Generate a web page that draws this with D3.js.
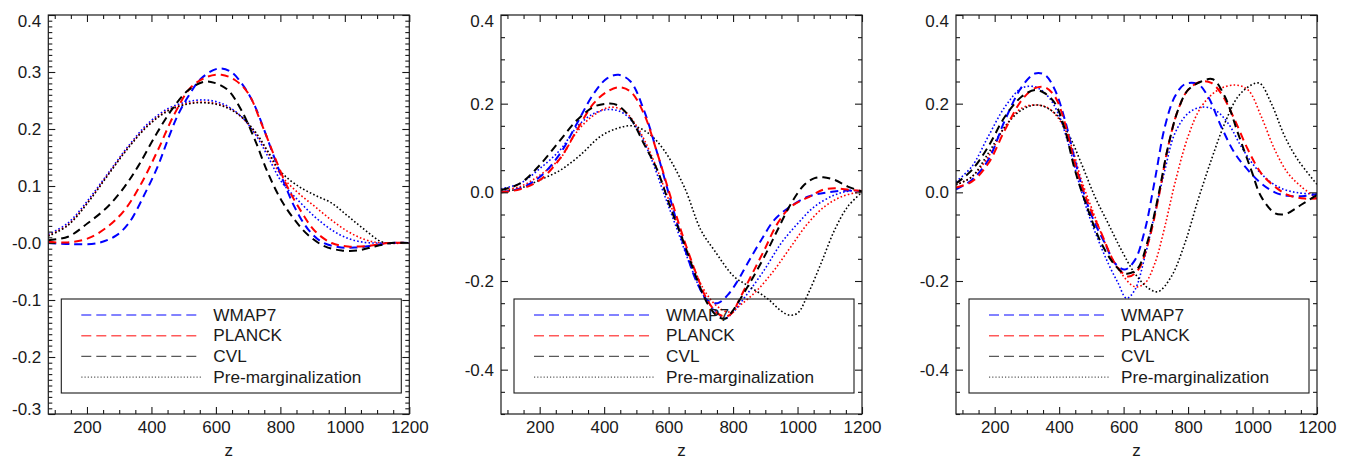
<!DOCTYPE html>
<html>
<head>
<meta charset="utf-8">
<script src="https://d3js.org/d3.v7.min.js"></script>
<style>
  body { margin: 0; background: #fff; }
  text { font-family: "Liberation Sans", Arial, Helvetica, sans-serif; fill: #1a1a1a; }
</style>
</head>
<body>
<script>
// x ticks shared by all panels
const zTicks = [200, 400, 600, 800, 1000, 1200];

// y ticks per panel
const p1YTicks = [-0.3, -0.2, -0.1, 0, 0.1, 0.2, 0.3, 0.4];
const p1YLabels = ["-0.3", "-0.2", "-0.1", "-0.0", "0.1", "0.2", "0.3", "0.4"];
const p23YTicks = [-0.4, -0.2, 0, 0.2, 0.4];
const p23YLabels = ["-0.4", "-0.2", "0.0", "0.2", "0.4"];

const legendNames = ["WMAP7", "PLANCK", "CVL", "Pre-marginalization"];

// panel 1 : [z, value]
const p1Wmap7 = [[80,0],[150,-0.002],[234,0.0],[290,0.013],[330,0.035],[380,0.087],[420,0.135],[450,0.18],[480,0.222],[514,0.257],[555,0.289],[607,0.306],[645,0.301],[690,0.272],[721,0.24],[752,0.195],[783,0.147],[814,0.102],[845,0.062],[886,0.024],[928,0.002],[979,-0.007],[1031,-0.008],[1093,-0.004],[1145,0],[1200,0]];
const p1Planck = [[80,0.002],[141,0.001],[203,0.008],[265,0.029],[317,0.058],[369,0.105],[420,0.163],[472,0.227],[524,0.274],[576,0.292],[617,0.295],[659,0.286],[700,0.263],[741,0.21],[783,0.15],[824,0.096],[866,0.054],[907,0.021],[959,0.0],[1010,-0.006],[1073,-0.005],[1135,0],[1200,0]];
const p1Cvl = [[80,0.005],[141,0.011],[203,0.035],[265,0.064],[317,0.099],[358,0.134],[410,0.186],[462,0.233],[514,0.268],[565,0.283],[596,0.281],[638,0.268],[679,0.233],[721,0.181],[762,0.122],[803,0.075],[845,0.04],[886,0.014],[938,-0.006],[990,-0.013],[1041,-0.013],[1093,-0.006],[1145,0],[1200,0]];
const p1Wmap7Pre = [[80,0.015],[141,0.035],[203,0.075],[265,0.122],[327,0.169],[390,0.21],[452,0.236],[514,0.248],[565,0.251],[617,0.245],[669,0.227],[721,0.192],[762,0.151],[803,0.108],[855,0.075],[907,0.046],[959,0.023],[1010,0.008],[1062,0.001],[1114,0],[1200,0]];
const p1PlanckPre = [[80,0.013],[141,0.032],[203,0.072],[265,0.12],[327,0.167],[390,0.207],[452,0.233],[514,0.245],[565,0.247],[617,0.242],[669,0.226],[721,0.194],[762,0.158],[803,0.118],[855,0.088],[907,0.064],[959,0.04],[1010,0.02],[1062,0.006],[1114,0],[1200,0]];
const p1CvlPre = [[80,0.012],[141,0.031],[203,0.071],[265,0.119],[327,0.166],[390,0.206],[452,0.232],[514,0.244],[565,0.246],[617,0.241],[669,0.226],[721,0.196],[762,0.16],[803,0.124],[855,0.1],[907,0.084],[959,0.07],[1010,0.047],[1062,0.023],[1114,0.002],[1145,0],[1200,0]];

// panel 2
const p2Wmap7 = [[80,0],[139,0.009],[201,0.035],[264,0.088],[316,0.156],[368,0.223],[409,0.257],[445,0.265],[482,0.25],[523,0.186],[565,0.088],[606,-0.017],[648,-0.122],[689,-0.205],[720,-0.243],[752,-0.25],[783,-0.232],[814,-0.2],[845,-0.16],[887,-0.108],[928,-0.062],[970,-0.036],[1032,-0.01],[1094,0.0],[1156,0.004],[1200,0.003]];
const p2Planck = [[80,0],[139,0.007],[201,0.028],[264,0.077],[316,0.141],[368,0.201],[409,0.227],[445,0.237],[482,0.227],[523,0.178],[565,0.088],[606,-0.01],[648,-0.107],[689,-0.19],[720,-0.243],[752,-0.273],[778,-0.28],[800,-0.27],[814,-0.25],[855,-0.19],[897,-0.13],[938,-0.07],[980,-0.032],[1042,-0.008],[1080,0.006],[1115,0.009],[1160,0.006],[1200,0.003]];
const p2Cvl = [[80,0.005],[139,0.02],[201,0.062],[264,0.118],[316,0.163],[368,0.193],[409,0.2],[440,0.197],[482,0.167],[523,0.11],[565,0.05],[606,-0.035],[648,-0.115],[689,-0.198],[720,-0.25],[752,-0.28],[775,-0.285],[793,-0.273],[845,-0.213],[897,-0.145],[938,-0.085],[980,-0.025],[1021,0.017],[1053,0.032],[1080,0.034],[1115,0.028],[1156,0.013],[1200,0.002]];
const p2Wmap7Pre = [[80,0.008],[139,0.02],[201,0.054],[264,0.096],[316,0.148],[368,0.178],[419,0.187],[461,0.178],[502,0.144],[544,0.08],[585,-0.002],[627,-0.085],[669,-0.168],[710,-0.235],[752,-0.273],[775,-0.285],[800,-0.27],[845,-0.228],[897,-0.175],[949,-0.115],[1001,-0.07],[1053,-0.032],[1115,-0.006],[1160,0.003],[1200,0.003]];
const p2PlanckPre = [[80,0.004],[139,0.013],[201,0.039],[264,0.077],[316,0.137],[368,0.174],[419,0.192],[461,0.184],[502,0.148],[544,0.088],[585,0.013],[627,-0.07],[669,-0.153],[710,-0.22],[752,-0.258],[790,-0.27],[830,-0.25],[876,-0.22],[928,-0.175],[980,-0.122],[1032,-0.07],[1084,-0.032],[1136,-0.01],[1188,0.0],[1200,0.0]];
const p2CvlPre = [[80,0.0],[139,0.009],[201,0.028],[264,0.05],[326,0.084],[388,0.126],[440,0.144],[487,0.15],[534,0.135],[585,0.096],[648,0.013],[700,-0.085],[741,-0.13],[803,-0.19],[845,-0.21],[907,-0.24],[950,-0.268],[975,-0.277],[1001,-0.272],[1032,-0.23],[1073,-0.16],[1115,-0.085],[1156,-0.032],[1200,0.0]];

// panel 3
const p3Wmap7 = [[80,0.007],[129,0.028],[180,0.073],[232,0.163],[284,0.238],[325,0.268],[356,0.265],[387,0.231],[418,0.163],[449,0.073],[480,-0.01],[511,-0.07],[542,-0.115],[573,-0.16],[604,-0.174],[635,-0.153],[666,-0.085],[697,0.028],[728,0.148],[759,0.216],[790,0.244],[831,0.244],[862,0.216],[903,0.148],[945,0.088],[986,0.05],[1027,0.02],[1069,0.0],[1110,-0.008],[1162,-0.008],[1200,-0.004]];
const p3Planck = [[80,0.011],[129,0.024],[180,0.065],[232,0.141],[284,0.208],[325,0.235],[356,0.237],[387,0.216],[418,0.156],[449,0.065],[490,-0.025],[531,-0.092],[573,-0.16],[614,-0.19],[645,-0.175],[676,-0.115],[707,-0.017],[738,0.103],[769,0.186],[800,0.231],[841,0.25],[872,0.247],[903,0.223],[945,0.163],[986,0.096],[1027,0.043],[1069,0.013],[1110,-0.006],[1162,-0.014],[1200,-0.014]];
const p3Cvl = [[80,0.02],[129,0.05],[180,0.103],[232,0.171],[284,0.216],[325,0.231],[356,0.223],[387,0.201],[418,0.141],[449,0.05],[490,-0.04],[531,-0.115],[573,-0.164],[604,-0.183],[640,-0.175],[676,-0.107],[707,-0.01],[738,0.103],[769,0.186],[800,0.231],[841,0.25],[877,0.255],[914,0.216],[955,0.133],[996,0.05],[1027,-0.01],[1069,-0.047],[1094,-0.05],[1110,-0.047],[1151,-0.028],[1200,-0.006]];
const p3Wmap7Pre = [[80,0.024],[129,0.058],[180,0.126],[232,0.193],[284,0.235],[325,0.238],[366,0.216],[397,0.178],[428,0.111],[459,0.028],[490,-0.047],[521,-0.107],[552,-0.16],[583,-0.205],[609,-0.239],[635,-0.22],[666,-0.145],[697,-0.047],[728,0.05],[759,0.133],[800,0.178],[841,0.192],[883,0.186],[924,0.156],[965,0.103],[1007,0.058],[1048,0.028],[1089,0.009],[1141,-0.001],[1200,-0.004]];
const p3PlanckPre = [[80,0.017],[129,0.035],[180,0.08],[232,0.148],[284,0.19],[325,0.197],[366,0.19],[408,0.156],[439,0.103],[469,0.028],[511,-0.055],[552,-0.13],[593,-0.183],[635,-0.213],[666,-0.205],[697,-0.16],[728,-0.077],[759,0.02],[800,0.126],[841,0.193],[893,0.231],[945,0.242],[986,0.231],[1027,0.171],[1069,0.096],[1110,0.043],[1151,0.013],[1200,-0.014]];
const p3CvlPre = [[80,0.017],[129,0.035],[180,0.088],[232,0.148],[284,0.186],[335,0.197],[387,0.178],[428,0.133],[469,0.065],[511,-0.01],[552,-0.07],[593,-0.13],[635,-0.183],[676,-0.216],[707,-0.224],[748,-0.19],[790,-0.115],[831,-0.017],[872,0.073],[914,0.156],[955,0.216],[996,0.242],[1022,0.246],[1058,0.201],[1100,0.126],[1141,0.073],[1200,0.018]];

const panels = [
  {left: 48.3, ydom: [-0.3, 0.4], yt: p1YTicks, yl: p1YLabels, minor: 0.01,
   dashed: [p1Wmap7, p1Planck, p1Cvl], dotted: [p1Wmap7Pre, p1PlanckPre, p1CvlPre]},
  {left: 501, ydom: [-0.5, 0.4], yt: p23YTicks, yl: p23YLabels, minor: 0.05,
   dashed: [p2Wmap7, p2Planck, p2Cvl], dotted: [p2Wmap7Pre, p2PlanckPre, p2CvlPre]},
  {left: 956, ydom: [-0.5, 0.4], yt: p23YTicks, yl: p23YLabels, minor: 0.05,
   dashed: [p3Wmap7, p3Planck, p3Cvl], dotted: [p3Wmap7Pre, p3PlanckPre, p3CvlPre]}
];
const colors = ["#0000ff", "#ff0000", "#000000"];

const W = 1353, H = 460;
const plotTop = 15, pw = 361, ph = 399;
const tickFont = 17;

const svg = d3.select("body").append("svg")
  .attr("width", W).attr("height", H);

panels.forEach(function(p, i) {
  const g = svg.append("g").attr("transform", "translate(" + p.left + "," + plotTop + ")");
  const x = d3.scaleLinear().domain([80, 1200]).range([0, pw]);
  const y = d3.scaleLinear().domain(p.ydom).range([ph, 0]);

  g.append("clipPath").attr("id", "clip" + i)
    .append("rect").attr("width", pw).attr("height", ph);

  const line = d3.line()
    .x(function(d) { return x(d[0]); })
    .y(function(d) { return y(d[1]); })
    .curve(d3.curveCatmullRom.alpha(0.5));

  const curves = g.append("g").attr("clip-path", "url(#clip" + i + ")");
  for (var k = 0; k < 3; k++) {
    curves.append("path").datum(p.dotted[k])
      .attr("fill", "none").attr("stroke", colors[k])
      .attr("stroke-width", 1.6).attr("stroke-dasharray", "1.6,2.2")
      .attr("d", line);
  }
  for (var k = 0; k < 3; k++) {
    curves.append("path").datum(p.dashed[k])
      .attr("fill", "none").attr("stroke", colors[k])
      .attr("stroke-width", 2).attr("stroke-dasharray", "8,5")
      .attr("d", line);
  }

  // minor ticks
  const xMinor = d3.range(100, 1201, 50).filter(function(v) { return zTicks.indexOf(v) < 0; });
  const yMinor = d3.range(Math.round(p.ydom[0] / p.minor), Math.round(p.ydom[1] / p.minor) + 1)
    .map(function(k) { return +(k * p.minor).toFixed(3); })
    .filter(function(v) { return p.yt.every(function(t) { return Math.abs(t - v) > 1e-6; }); });

  function tickStyle(sel) {
    sel.select(".domain").remove();
    sel.selectAll("line").attr("stroke", "#1a1a1a").attr("stroke-width", 1.1);
  }

  // bottom
  g.append("g").attr("transform", "translate(0," + ph + ")")
    .call(d3.axisBottom(x).tickValues(xMinor).tickSize(-4).tickFormat(""))
    .call(tickStyle);
  g.append("g").attr("transform", "translate(0," + ph + ")")
    .call(d3.axisBottom(x).tickValues(zTicks).tickSize(-7).tickPadding(7).tickFormat(d3.format("d")))
    .call(tickStyle)
    .selectAll("text").attr("font-size", tickFont).style("fill", "#1a1a1a")
    .attr("font-family", "Liberation Sans, Arial, sans-serif");
  // top
  g.append("g").call(d3.axisTop(x).tickValues(xMinor).tickSize(-4).tickFormat("")).call(tickStyle);
  g.append("g").call(d3.axisTop(x).tickValues(zTicks).tickSize(-7).tickFormat("")).call(tickStyle);
  // left
  g.append("g").call(d3.axisLeft(y).tickValues(yMinor).tickSize(-4).tickFormat("")).call(tickStyle);
  g.append("g")
    .call(d3.axisLeft(y).tickValues(p.yt).tickSize(-7).tickPadding(7)
      .tickFormat(function(d, j) { return p.yl[j]; }))
    .call(tickStyle)
    .selectAll("text").attr("font-size", tickFont).style("fill", "#1a1a1a")
    .attr("font-family", "Liberation Sans, Arial, sans-serif")
    .attr("dy", function(d) {
      if (d === p.ydom[1]) return "0.7em";
      if (d === p.ydom[0]) return "0.02em";
      return "0.32em";
    });
  // right
  g.append("g").attr("transform", "translate(" + pw + ",0)")
    .call(d3.axisRight(y).tickValues(yMinor).tickSize(-4).tickFormat("")).call(tickStyle);
  g.append("g").attr("transform", "translate(" + pw + ",0)")
    .call(d3.axisRight(y).tickValues(p.yt).tickSize(-7).tickFormat("")).call(tickStyle);

  // frame
  g.append("rect").attr("width", pw).attr("height", ph)
    .attr("fill", "none").attr("stroke", "#1a1a1a").attr("stroke-width", 1.2);

  // x label
  g.append("text").text("z")
    .attr("x", pw / 2).attr("y", 441).attr("text-anchor", "middle")
    .attr("font-size", 17);

  // legend
  const lg = g.append("g");
  lg.append("rect")
    .attr("x", 13).attr("y", 284).attr("width", pw - 21).attr("height", 94)
    .attr("fill", "none").attr("stroke", "#1a1a1a").attr("stroke-width", 1.1);
  legendNames.forEach(function(name, j) {
    const yy = 300 + j * 20.7;
    lg.append("line")
      .attr("x1", 33).attr("x2", 153).attr("y1", yy).attr("y2", yy)
      .attr("stroke", j < 3 ? colors[j] : "#000")
      .attr("stroke-opacity", 0.65)
      .attr("stroke-width", j < 3 ? 1.4 : 1.2)
      .attr("stroke-dasharray", j < 3 ? "10,5" : "1.2,2");
    lg.append("text").text(name)
      .attr("x", 165).attr("y", yy + 5.5)
      .attr("font-size", 17.2);
  });
});
</script>
</body>
</html>
